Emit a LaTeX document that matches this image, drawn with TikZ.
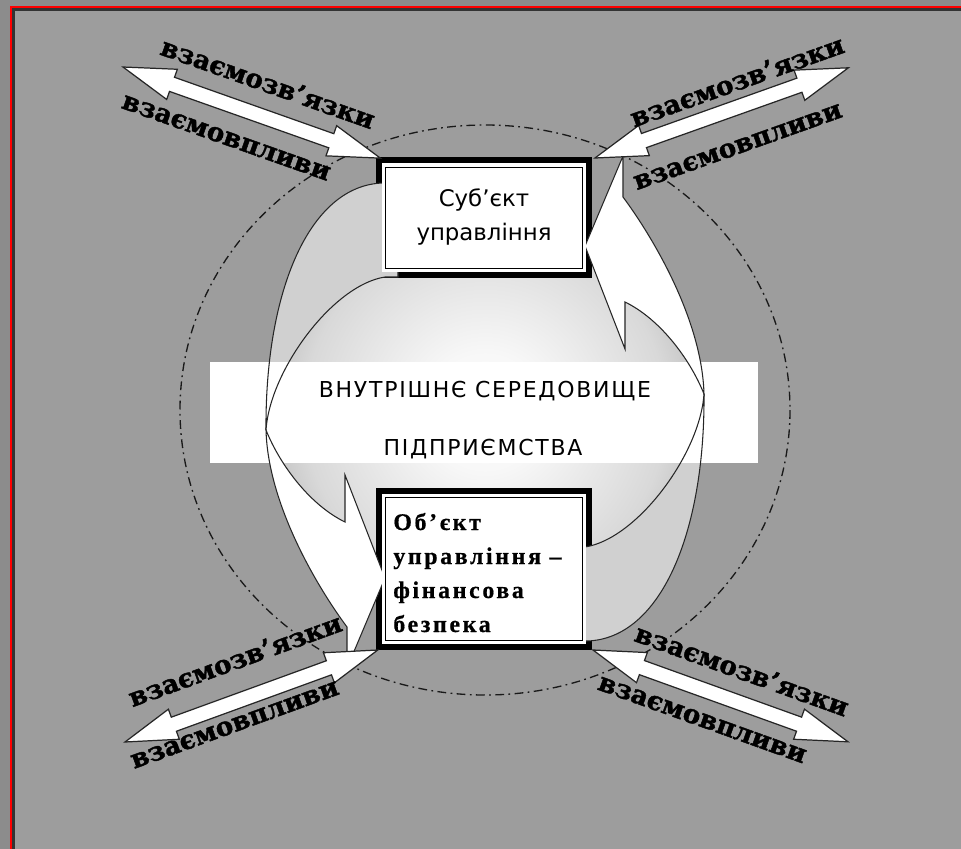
\documentclass[tikz,border=0pt]{standalone}
\usepackage{fontspec}
\setmainfont{Liberation Serif}
\newfontfamily\boxsans{DejaVu Sans}
\newfontfamily\envsans{DejaVu Sans}[LetterSpace=8]
\newfontface\labelserif{DejaVu Serif Bold}[FakeBold=1.6]
\newfontface\objbold{Liberation Serif Bold}[LetterSpace=11, FakeBold=0.6]

\definecolor{outergray}{HTML}{8C8C8C}
\definecolor{bggray}{HTML}{9D9D9D}
\definecolor{backgray}{HTML}{D0D0D0}

\pgfdeclareradialshading{centreglow}{\pgfpoint{0bp}{0bp}}{color(0bp)=(white); color(7bp)=(white!97!black); color(21bp)=(black!15); color(28bp)=(black!28); color(35bp)=(bggray); color(50bp)=(bggray)}

% left curved arrow, the right one is the same turned by 180 degrees
\newcommand{\backface}{(398,183) -- (383,183) .. controls (310,185) and (265,290) .. (266,430) .. controls (270,370) and (333,285) .. (385,277) -- (398,277) -- cycle}
\newcommand{\frontface}{(266,430) .. controls (268,505) and (318,588) .. (347,627) -- (347,668) -- (385,578) -- (345,475) -- (345,522) .. controls (310,505) and (280,465) .. (266,430) -- cycle}

\begin{document}
\begin{tikzpicture}[x=0.02cm, y=-0.02cm,
    bandline/.style={draw=black!85, line width=0.6pt},
    fatarrow/.style={draw=black!85, fill=white, line width=0.7pt},
    boxinner/.style={draw=black, fill=white, line width=0.9pt},
    sanstext/.style={font=\boxsans\fontsize{13}{15}\selectfont, inner sep=0pt, anchor=base},
    envtext/.style={font=\envsans\fontsize{12.5}{15}\selectfont, inner sep=0pt, anchor=base},
    objtext/.style={font=\objbold\fontsize{13.6}{16}\selectfont, inner sep=0pt, anchor=base west},
    lbl/.style={font=\labelserif\fontsize{14.8}{17}\selectfont, inner sep=0pt}]

    % Background and frame
    \useasboundingbox (0,0) rectangle (961,849);
    \fill[outergray] (0,0) rectangle (961,849);
    \fill[bggray] (12,8) rectangle (961,849);
    \draw[red, line width=1.2pt] (11,849) -- (11,7) -- (961,7);
    \draw[black!80, line width=1.3pt] (13.5,849) -- (13.5,9.5) -- (961,9.5);

    % Outer environment
    \draw[black!90, line width=0.75pt, dash pattern=on 5pt off 2.5pt on 1pt off 2.5pt]
        (485,410) ellipse [x radius=305, y radius=285];

    % Inner environment
    \shade[shading=centreglow] (485,412) circle [radius=215];

    % Frames of the boxes
    \fill[black] (376,157) rectangle (592,278);
    \fill[black] (376,488) rectangle (592,650);

    % Curved arrows
    \foreach \r in {0,180} {
        \begin{scope}[rotate around={\r:(485,412)}]
            \fill[backgray] \backface;
            \fill[white] \frontface;
        \end{scope}
    }

    \fill[white] (210,362) rectangle (758,463);

    \foreach \r in {0,180} {
        \begin{scope}[rotate around={\r:(485,412)}]
            \draw[bandline] \backface;
            \draw[bandline] \frontface;
        \end{scope}
    }

    % Subject
    \fill[white] (382,163) rectangle (586,272);
    \draw[boxinner] (385.5,167.5) rectangle (582.5,268.5);
    \node[sanstext] (subj1) at (484,206) {Суб’єкт};
    \node[sanstext] (subj2) at (484,240) {управління};

    % Object
    \fill[white] (382,494) rectangle (586,644);
    \draw[boxinner] (385.5,497.5) rectangle (582.5,640.5);
    \foreach \t [count=\i] in {Об’єкт, управління –, фінансова, безпека}
        \node[objtext] (obj\i) at (393,496+34*\i) {\t};

    \node[envtext] (env1) at (485,397) {ВНУТРІШНЄ СЕРЕДОВИЩЕ};
    \node[envtext] (env2) at (483,455) {ПІДПРИЄМСТВА};

    % Links with the outside
    \foreach \x/\y/\a/\l in {123/67/-19.5/273, 595/158/19.6/269, 125/742/20/269, 593/650/-19.8/271} {
        \begin{scope}[shift={(\x,\y)}, rotate=\a]
            \draw[fatarrow] (0,0) -- (52,16) -- (52,7.5) -- (\l-52,7.5) -- (\l-52,16) -- (\l,0)
                -- (\l-52,-16) -- (\l-52,-7.5) -- (52,-7.5) -- (52,-16) -- cycle;
        \end{scope}
    }

    \foreach \x/\y/\a/\t [count=\i] in {268/83/-19.5/взаємозв’язки, 226/138/-19.5/взаємовпливи,
            737/81/19.6/взаємозв’язки, 738/147/19.6/взаємовпливи,
            235/660/20/взаємозв’язки, 235/725/20/взаємовпливи,
            742/670/-19.8/взаємозв’язки, 702/720/-19.8/взаємовпливи}
        \node[lbl, rotate=\a] (lbl\i) at (\x,\y) {\t};
\end{tikzpicture}
\end{document}
